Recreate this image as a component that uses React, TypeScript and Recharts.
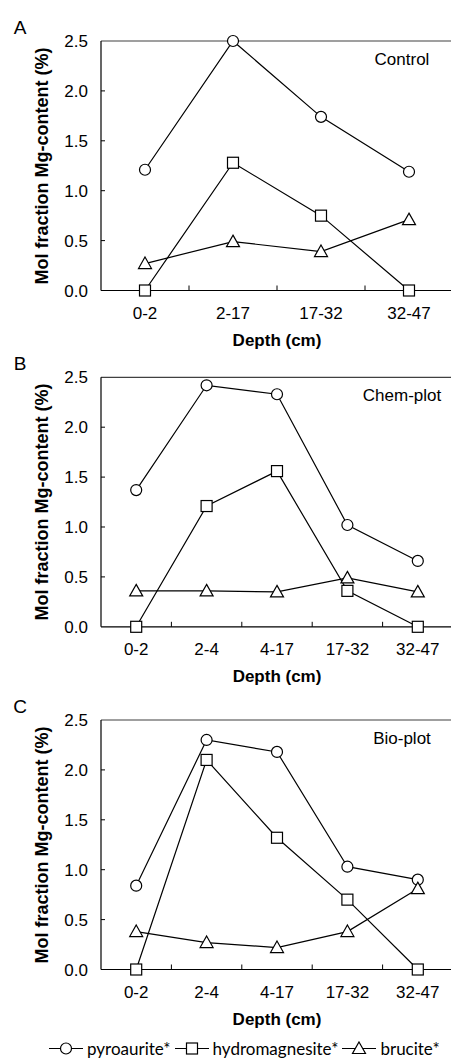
import { Line, LineChart, ReferenceLine, XAxis, YAxis } from 'recharts'

// depth intervals
const depthsA = ['0-2', '2-17', '17-32', '32-47']
const depthsBC = ['0-2', '2-4', '4-17', '17-32', '32-47']

// A - Control
const pyroA = [1.21, 2.5, 1.74, 1.19]
const hydroA = [0, 1.28, 0.75, 0]
const bruA = [0.27, 0.49, 0.39, 0.71]

// B - Chem-plot
const pyroB = [1.37, 2.42, 2.33, 1.02, 0.66]
const hydroB = [0, 1.21, 1.56, 0.36, 0]
const bruB = [0.36, 0.36, 0.35, 0.49, 0.35]

// C - Bio-plot
const pyroC = [0.84, 2.3, 2.18, 1.03, 0.9]
const hydroC = [0, 2.1, 1.32, 0.7, 0]
const bruC = [0.38, 0.27, 0.22, 0.38, 0.81]

const yTicks = [0, 0.5, 1, 1.5, 2, 2.5]

const FONT = '"Liberation Sans", Arial, sans-serif'
const PLOT_LEFT = 101
const PLOT_W = 352
const PLOT_H = 249.5
const YAXIS_W = 70
const XAXIS_H = 62
const X_TICK_MARGIN = 16
const Y_TICK_MARGIN = 13

function makeXTick(n: number) {
  const band = PLOT_W / n
  return (props: any) => {
    const { x, y, payload, index } = props
    const axisY = y - X_TICK_MARGIN
    return (
      <g>
        {index > 0 && (
          <line x1={x - band / 2} x2={x - band / 2} y1={axisY} y2={axisY - 5} stroke="#000" strokeWidth={1} />
        )}
        <text x={x} y={y} dy="0.71em" textAnchor="middle" fontSize={17} fontFamily={FONT} fill="#000">
          {payload.value}
        </text>
      </g>
    )
  }
}

function YTick(props: any) {
  const { x, y, payload } = props
  const axisX = x + Y_TICK_MARGIN
  return (
    <g>
      {payload.value > 0 && payload.value < 2.5 && (
        <line x1={axisX} x2={axisX + 4} y1={y} y2={y} stroke="#000" strokeWidth={1} />
      )}
      <text x={x} y={y} dy="0.355em" textAnchor="end" fontSize={17} fontFamily={FONT} fill="#000">
        {Number(payload.value).toFixed(1)}
      </text>
    </g>
  )
}

function CircleDot(props: any) {
  const { cx, cy } = props
  if (cx == null || cy == null) return null
  return <circle cx={cx} cy={cy} r={5.5} fill="#fff" stroke="#000" strokeWidth={1.2} />
}

function SquareDot(props: any) {
  const { cx, cy } = props
  if (cx == null || cy == null) return null
  return <rect x={cx - 5.5} y={cy - 5.5} width={11} height={11} fill="#fff" stroke="#000" strokeWidth={1.2} />
}

function TriangleDot(props: any) {
  const { cx, cy } = props
  if (cx == null || cy == null) return null
  return (
    <polygon
      points={`${cx},${cy - 6.5} ${cx + 6.5},${cy + 5} ${cx - 6.5},${cy + 5}`}
      fill="#fff"
      stroke="#000"
      strokeWidth={1.2}
    />
  )
}

type PanelProps = {
  top: number
  marginTop: number
  letter: string
  title: string
  depths: string[]
  pyro: number[]
  hydro: number[]
  bru: number[]
}

function Panel({ top, marginTop, letter, title, depths, pyro, hydro, bru }: PanelProps) {
  const data = depths.map((d, i) => ({ depth: d, pyro: pyro[i], hydro: hydro[i], bru: bru[i] }))
  const height = marginTop + PLOT_H + XAXIS_H
  const plotTop = top + marginTop
  const halfBand = PLOT_W / depths.length / 2
  return (
    <>
      <div style={{ position: 'absolute', left: 0, top, width: 451, height, overflow: 'hidden' }}>
        <LineChart
          width={PLOT_LEFT + PLOT_W}
          height={height}
          data={data}
          margin={{ top: marginTop, right: 0, bottom: 0, left: PLOT_LEFT - YAXIS_W }}
        >
          <XAxis
            dataKey="depth"
            height={XAXIS_H}
            interval={0}
            padding={{ left: halfBand, right: halfBand }}
            tickLine={false}
            tickSize={0}
            tickMargin={X_TICK_MARGIN}
            tick={makeXTick(depths.length)}
            axisLine={{ stroke: '#000', strokeWidth: 1.2 }}
            label={{
              value: 'Depth (cm)',
              position: 'insideBottom',
              offset: 7,
              style: { fontSize: 17, fontWeight: 'bold', fontFamily: FONT, fill: '#000' },
            }}
          />
          <YAxis
            width={YAXIS_W}
            domain={[0, 2.5]}
            ticks={yTicks}
            interval={0}
            tickLine={false}
            tickSize={0}
            tickMargin={Y_TICK_MARGIN}
            tick={YTick}
            axisLine={{ stroke: '#000', strokeWidth: 1.2 }}
          />
          <ReferenceLine y={2.5} stroke="#404040" strokeWidth={1.2} />
          <Line dataKey="pyro" stroke="#000" strokeWidth={1.2} dot={CircleDot} isAnimationActive={false} />
          <Line dataKey="hydro" stroke="#000" strokeWidth={1.2} dot={SquareDot} isAnimationActive={false} />
          <Line dataKey="bru" stroke="#000" strokeWidth={1.2} dot={TriangleDot} isAnimationActive={false} />
        </LineChart>
      </div>
      <div
        style={{
          position: 'absolute',
          left: 20,
          top: plotTop - 14,
          transform: 'translate(-50%, -50%)',
          fontFamily: FONT,
          fontSize: 19,
          lineHeight: 1,
        }}
      >
        {letter}
      </div>
      <div
        style={{
          position: 'absolute',
          left: 402,
          top: plotTop + 18,
          transform: 'translate(-50%, -50%)',
          fontFamily: FONT,
          fontSize: 17,
          lineHeight: 1,
          whiteSpace: 'nowrap',
        }}
      >
        {title}
      </div>
      <div
        style={{
          position: 'absolute',
          left: 42,
          top: plotTop + PLOT_H / 2,
          transform: 'translate(-50%, -50%) rotate(-90deg)',
          fontFamily: FONT,
          fontSize: 18,
          fontWeight: 'bold',
          lineHeight: 1,
          whiteSpace: 'nowrap',
        }}
      >
        Mol fraction Mg-content (%)
      </div>
    </>
  )
}

function LegendIcon({ kind }: { kind: 'circle' | 'square' | 'triangle' }) {
  const cx = 17
  const cy = 8
  return (
    <svg width={34} height={16} style={{ display: 'block' }}>
      <line x1={0} x2={34} y1={cy} y2={cy} stroke="#000" strokeWidth={1.2} />
      {kind === 'circle' && <CircleDot cx={cx} cy={cy} />}
      {kind === 'square' && <SquareDot cx={cx} cy={cy} />}
      {kind === 'triangle' && <TriangleDot cx={cx} cy={cy} />}
    </svg>
  )
}

const legendItems: Array<{ kind: 'circle' | 'square' | 'triangle'; label: string }> = [
  { kind: 'circle', label: 'pyroaurite*' },
  { kind: 'square', label: 'hydromagnesite*' },
  { kind: 'triangle', label: 'brucite*' },
]

export default function App() {
  return (
    <div style={{ position: 'absolute', left: 0, top: 0, width: 451, height: 1061, background: '#fff', overflow: 'hidden' }}>
      <Panel top={0} marginTop={41} letter="A" title="Control" depths={depthsA} pyro={pyroA} hydro={hydroA} bru={bruA} />
      <Panel top={340} marginTop={37.3} letter="B" title="Chem-plot" depths={depthsBC} pyro={pyroB} hydro={hydroB} bru={bruB} />
      <Panel top={680} marginTop={40} letter="C" title="Bio-plot" depths={depthsBC} pyro={pyroC} hydro={hydroC} bru={bruC} />
      <div
        style={{
          position: 'absolute',
          left: 49,
          top: 1048,
          transform: 'translateY(-50%)',
          display: 'flex',
          alignItems: 'center',
          fontFamily: 'Lato, "Noto Sans", sans-serif',
          fontSize: 17,
          whiteSpace: 'nowrap',
        }}
      >
        {legendItems.map((item) => (
          <div key={item.label} style={{ display: 'flex', alignItems: 'center', marginRight: 4 }}>
            <LegendIcon kind={item.kind} />
            <span style={{ marginLeft: 4 }}>{item.label}</span>
          </div>
        ))}
      </div>
    </div>
  )
}
